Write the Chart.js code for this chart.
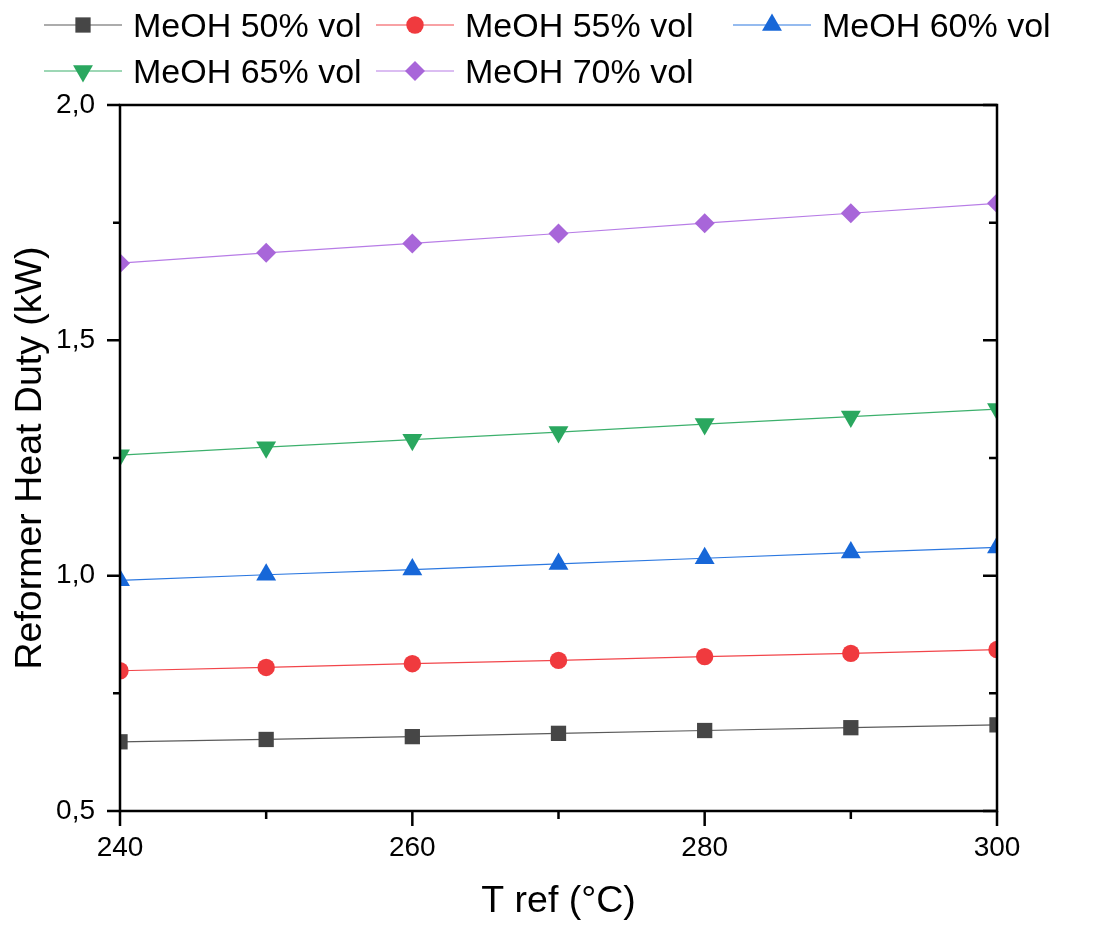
<!DOCTYPE html>
<html>
<head>
<meta charset="utf-8">
<script src="https://cdn.jsdelivr.net/npm/chart.js@4"></script>
<style>
  html, body { margin: 0; padding: 0; background: #fff; }
  #wrap { width: 1094px; height: 926px; }
</style>
</head>
<body>
<div id="wrap"><canvas id="heatChart" width="1094" height="926"></canvas></div>
<script>
// data
const tRef = [240, 250, 260, 270, 280, 290, 300];
const meoh50 = [0.647, 0.652, 0.658, 0.665, 0.671, 0.677, 0.683];
const meoh55 = [0.798, 0.805, 0.813, 0.820, 0.828, 0.835, 0.843];
const meoh60 = [0.990, 1.002, 1.013, 1.025, 1.037, 1.049, 1.060];
const meoh65 = [1.256, 1.273, 1.289, 1.305, 1.322, 1.338, 1.354];
const meoh70 = [1.664, 1.686, 1.706, 1.727, 1.749, 1.770, 1.791];
const seriesLabels = ['MeOH 50% vol', 'MeOH 55% vol', 'MeOH 60% vol', 'MeOH 65% vol', 'MeOH 70% vol'];
const xTickLabels = [240, 260, 280, 300];
const yTickLabels = [0.5, 1.0, 1.5, 2.0];

const FONT = "'Liberation Sans', Arial, sans-serif";

function toPoints(vals) {
    return tRef.map((t, i) => ({ x: t, y: vals[i] }));
}

function makeSet(label, vals, line, marker, style, radius, rotation) {
    return {
        label: label,
        data: toPoints(vals),
        borderColor: line,
        borderWidth: 1.2,
        backgroundColor: marker,
        pointBackgroundColor: marker,
        pointBorderWidth: 0,
        pointStyle: style,
        pointRadius: radius,
        pointRotation: rotation || 0,
        tension: 0,
        clip: 0
    };
}

const datasets = [
    makeSet(seriesLabels[0], meoh50, '#5a5a5a', '#464646', 'rect', 10.8),
    makeSet(seriesLabels[1], meoh55, '#f2454a', '#f03a3e', 'circle', 8.7),
    makeSet(seriesLabels[2], meoh60, '#2c78e0', '#1767d8', 'triangle', 11.5),
    makeSet(seriesLabels[3], meoh65, '#3cb06c', '#2aa75f', 'triangle', 11.5, 180),
    makeSet(seriesLabels[4], meoh70, '#b77ce6', '#a866d9', 'rectRot', 10)
];

function isMajorY(v) {
    return yTickLabels.some(t => Math.abs(t - v) < 1e-6);
}

// box + inner/outer tick marks
const framePlugin = {
    id: 'frame',
    afterDatasetsDraw(chart) {
        const { ctx, chartArea: a } = chart;
        const x = chart.scales.x, y = chart.scales.y;
        ctx.save();
        ctx.strokeStyle = '#000';
        ctx.lineWidth = 2.5;
        ctx.strokeRect(a.left, a.top, a.right - a.left, a.bottom - a.top);
        ctx.beginPath();
        y.ticks.forEach(t => {
            const py = y.getPixelForValue(t.value);
            const len = isMajorY(t.value) ? 13 : 7;
            ctx.moveTo(a.left - len, py);
            ctx.lineTo(a.left, py);
            ctx.moveTo(a.right, py);
            ctx.lineTo(a.right - len - 1, py);
        });
        x.ticks.forEach(t => {
            const px = x.getPixelForValue(t.value);
            const len = xTickLabels.includes(t.value) ? 15 : 8;
            ctx.moveTo(px, a.bottom);
            ctx.lineTo(px, a.bottom + len);
        });
        ctx.stroke();
        ctx.restore();
    }
};

// legend with line + marker, two rows
const legendPlugin = {
    id: 'lineLegend',
    afterDraw(chart) {
        const ctx = chart.ctx;
        const slots = [
            { x: 44, y: 25 }, { x: 376, y: 25 }, { x: 733, y: 25 },
            { x: 44, y: 71 }, { x: 376, y: 71 }
        ];
        ctx.save();
        chart.data.datasets.forEach((ds, i) => {
            const s = slots[i];
            ctx.strokeStyle = ds.borderColor;
            ctx.lineWidth = 1.2;
            ctx.beginPath();
            ctx.moveTo(s.x, s.y);
            ctx.lineTo(s.x + 78, s.y);
            ctx.stroke();
            ctx.fillStyle = ds.pointBackgroundColor;
            Chart.helpers.drawPoint(ctx, {
                pointStyle: ds.pointStyle,
                radius: ds.pointRadius,
                rotation: ds.pointRotation,
                borderWidth: 0
            }, s.x + 39, s.y);
            ctx.fillStyle = '#000';
            ctx.font = '34px ' + FONT;
            ctx.textBaseline = 'alphabetic';
            ctx.textAlign = 'left';
            ctx.fillText(ds.label, s.x + 89, s.y + 12);
        });
        ctx.restore();
    }
};

new Chart(document.getElementById('heatChart'), {
    type: 'line',
    data: { datasets: datasets },
    options: {
        responsive: false,
        animation: false,
        devicePixelRatio: 1,
        layout: { padding: { top: 105, right: 97, bottom: 0, left: 0 } },
        plugins: {
            legend: { display: false },
            tooltip: { enabled: false }
        },
        scales: {
            x: {
                type: 'linear',
                min: 240,
                max: 300,
                grid: { display: false, drawTicks: false },
                border: { display: false },
                ticks: {
                    stepSize: 10,
                    autoSkip: false,
                    maxRotation: 0,
                    padding: 20,
                    color: '#000',
                    font: { family: FONT, size: 28 },
                    callback: v => xTickLabels.includes(v) ? String(v) : ''
                },
                title: {
                    display: true,
                    text: 'T ref (°C)',
                    color: '#000',
                    font: { family: FONT, size: 37.5 },
                    padding: { top: 0, bottom: 2 }
                },
                afterFit: s => { s.height = 115; }
            },
            y: {
                min: 0.5,
                max: 2.0,
                grid: { display: false, drawTicks: false },
                border: { display: false },
                ticks: {
                    stepSize: 0.25,
                    autoSkip: false,
                    padding: 25,
                    color: '#000',
                    font: { family: FONT, size: 28 },
                    callback: v => isMajorY(v) ? v.toFixed(1).replace('.', ',') : ''
                },
                title: {
                    display: true,
                    text: 'Reformer Heat Duty (kW)',
                    color: '#000',
                    font: { family: FONT, size: 37.5 },
                    padding: { top: 8, bottom: 0 }
                },
                afterFit: s => { s.width = 120; }
            }
        }
    },
    plugins: [framePlugin, legendPlugin]
});
</script>
</body>
</html>
